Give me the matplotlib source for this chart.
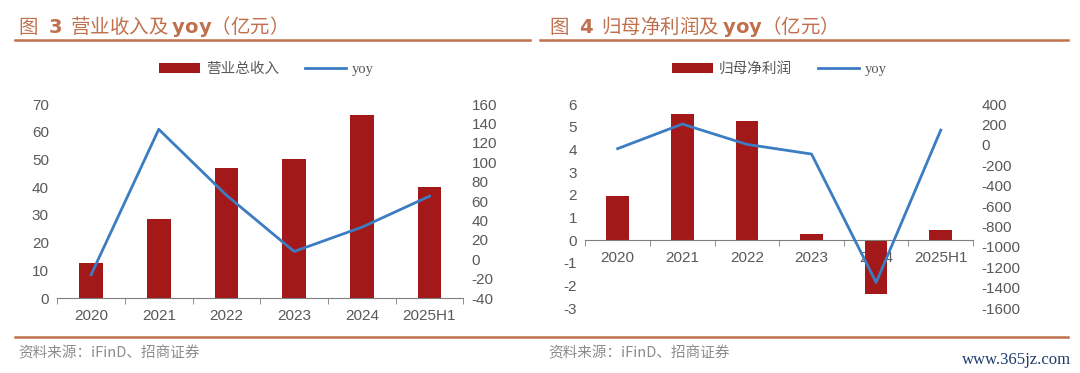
import matplotlib.pyplot as plt
from matplotlib.ticker import FixedLocator

plt.rcParams['font.family'] = ['Liberation Sans', 'Noto Sans CJK SC', 'DejaVu Sans']
plt.rcParams['axes.unicode_minus'] = False

years = ['2020', '2021', '2022', '2023', '2024', '2025H1']
revenue = [12.6, 28.6, 46.9, 50.3, 65.9, 40.2]
revenue_yoy = [-16, 134, 66, 8, 33, 65]
profit = [1.94, 5.55, 5.27, 0.25, -2.39, 0.43]
profit_yoy = [-37, 204, 5, -90, -1349, 145]

bar_c = '#A31818'
line_c = '#3B7CC2'
txt_c = '#595959'
title_c = '#C0704C'

fig = plt.figure(figsize=(10.8, 3.73), dpi=100)


def panel(rect, bars, yoy, ylim, yticks, y2lim, y2ticks, bar_name, zero_axis):
    ax = fig.add_axes(rect)
    x = range(len(years))
    ax.bar(x, bars, width=0.35, color=bar_c, zorder=2, label=bar_name)
    ax2 = ax.twinx()
    ax2.plot(x, yoy, color=line_c, lw=2, zorder=3, label='yoy')
    ax.set_xlim(-0.5, len(years) - 0.5)
    ax.set_ylim(*ylim)
    ax.set_yticks(yticks)
    ax2.set_ylim(*y2lim)
    ax2.set_yticks(y2ticks)
    for a in (ax, ax2):
        for s in ('top', 'left', 'right', 'bottom'):
            a.spines[s].set_visible(False)
        a.tick_params(axis='y', length=0, labelsize=11, labelcolor=txt_c, pad=6)
    ax.spines['bottom'].set_visible(True)
    ax.spines['bottom'].set_color('#7F7F7F')
    if zero_axis:
        ax.spines['bottom'].set_position(('data', 0))
    ax.set_xticks(list(x))
    ax.set_xticklabels(years)
    ax.xaxis.set_minor_locator(FixedLocator([i - 0.5 for i in range(len(years) + 1)]))
    ax.tick_params(axis='x', which='major', length=0, labelsize=11, labelcolor=txt_c, pad=8)
    ax.tick_params(axis='x', which='minor', length=4, color='#7F7F7F')
    ax2.set_zorder(ax.get_zorder() + 1)
    return ax, ax2


axL, axL2 = panel([0.053, 0.201, 0.376, 0.52], revenue, revenue_yoy,
                  (0, 70), range(0, 71, 10), (-40, 160), range(-40, 161, 20),
                  '营业总收入', False)
axR, axR2 = panel([0.542, 0.174, 0.359, 0.547], profit, profit_yoy,
                  (-3, 6), range(-3, 7), (-1600, 400), range(-1600, 401, 200),
                  '归母净利润', True)

# legends
for ax, ax2, cx in ((axL, axL2, 0.247), (axR, axR2, 0.722)):
    h1, l1 = ax.get_legend_handles_labels()
    h2, l2 = ax2.get_legend_handles_labels()
    leg = fig.legend(h1 + h2, l1 + l2, loc='center', bbox_to_anchor=(cx, 0.815),
                     ncol=2, frameon=False, fontsize=10.5, handlelength=2.8,
                     columnspacing=1.8, handletextpad=0.4)
    for t in leg.get_texts():
        t.set_color(txt_c)
    leg.get_texts()[0].set_family(['Noto Sans CJK SC'])
    leg.get_texts()[1].set_family(['Liberation Serif'])

# titles
fig.text(0.017, 0.928, '图 $\\ \\mathbf{3}$  营业收入及 $\\mathbf{yoy}$（亿元）', fontsize=14,
         color=title_c, family=['Noto Sans CJK SC', 'DejaVu Sans'], va='center')
fig.text(0.508, 0.928, '图 $\\ \\mathbf{4}$  归母净利润及 $\\mathbf{yoy}$（亿元）', fontsize=14,
         color=title_c, family=['Noto Sans CJK SC', 'DejaVu Sans'], va='center')
fig.add_artist(plt.Line2D([0.014, 0.491], [0.893, 0.893], color=title_c, lw=1.8))
fig.add_artist(plt.Line2D([0.5, 0.989], [0.893, 0.893], color=title_c, lw=1.8))

# footer
fig.add_artist(plt.Line2D([0.014, 0.989], [0.097, 0.097], color=title_c, lw=1.8))
fig.text(0.017, 0.052, '资料来源：iFinD、招商证券', fontsize=10.5, color='#8C8C8C',
         family=['Noto Sans CJK SC'], va='center')
fig.text(0.508, 0.052, '资料来源：iFinD、招商证券', fontsize=10.5, color='#8C8C8C',
         family=['Noto Sans CJK SC'], va='center')
fig.text(0.992, 0.035, 'www.365jz.com', fontsize=12, color='#1F3A6E',
         family=['Liberation Serif'], ha='right', va='center')

fig.savefig('out.png', dpi=100)
